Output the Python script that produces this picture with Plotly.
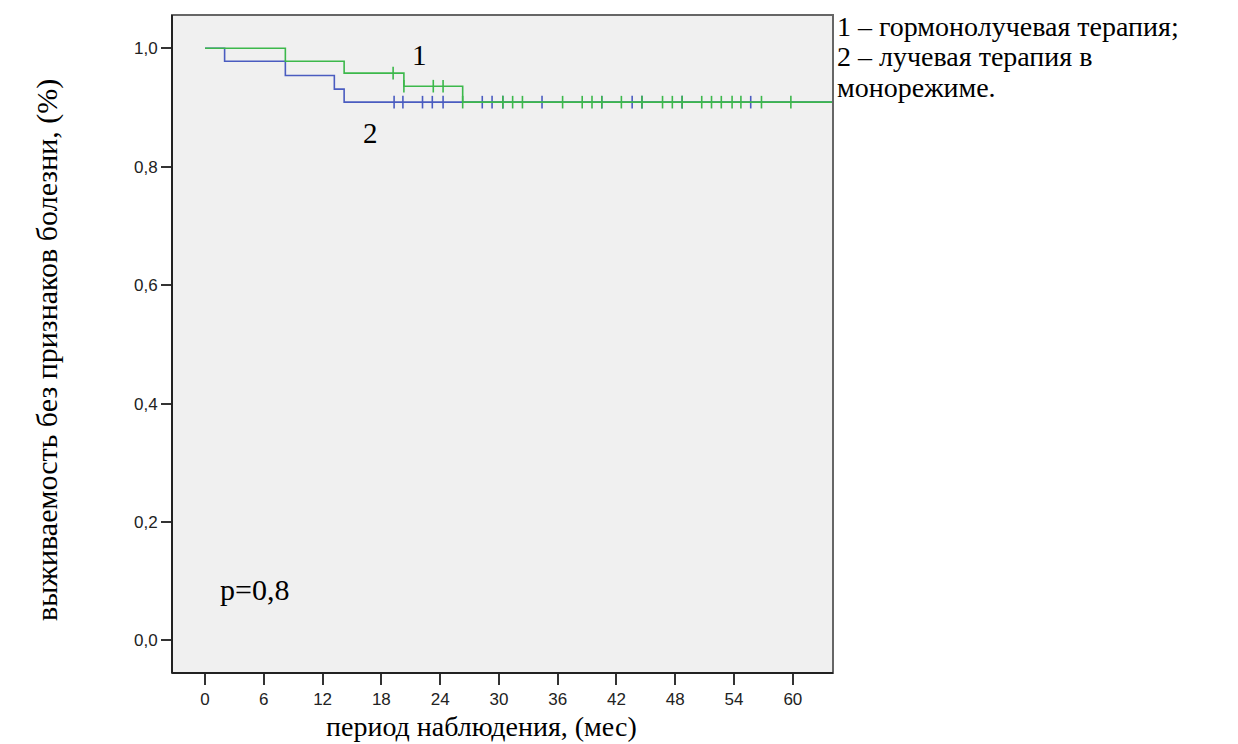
import numpy as np
import plotly.graph_objects as go

# Kaplan-Meier step data (months, survival)
g1_time = [0, 8.2, 14.2, 20.3, 26.3, 66]
g1_surv = [1.0, 0.978, 0.958, 0.936, 0.909, 0.909]
g1_cens = [19.2, 20.3, 23.3, 24.3, 26.3, 30.4, 31.4, 32.4, 36.5, 38.5, 39.5, 40.5,
           42.5, 44.6, 46.7, 47.7, 48.7, 50.7, 51.7, 52.7, 53.8, 54.7, 56.8, 59.8]

g2_time = [0, 2.0, 8.2, 13.2, 14.2, 66]
g2_surv = [1.0, 0.978, 0.954, 0.931, 0.909, 0.909]
g2_cens = [19.3, 20.2, 22.2, 23.2, 24.3, 28.3, 29.3, 30.4, 34.4, 40.5, 43.6, 44.6,
           48.7, 55.7]

x_ticks = [0, 6, 12, 18, 24, 30, 36, 42, 48, 54, 60]
y_ticks = [0.0, 0.2, 0.4, 0.6, 0.8, 1.0]
y_tick_text = ["0,0", "0,2", "0,4", "0,6", "0,8", "1,0"]

legend_lines = ["1 – гормонолучевая терапия;", "2 – лучевая терапия в", "монорежиме."]

GREEN = "#3cb84b"
BLUE = "#4a5cc0"


def step_at(times, surv, xs):
    idx = np.searchsorted(np.array(times), np.array(xs), side="right") - 1
    return [surv[i] for i in idx]


fig = go.Figure()
for times, surv, cens, col in [(g2_time, g2_surv, g2_cens, BLUE),
                               (g1_time, g1_surv, g1_cens, GREEN)]:
    fig.add_trace(go.Scatter(x=times, y=surv, mode="lines", line_shape="hv",
                             line=dict(color=col, width=1.6), showlegend=False,
                             hoverinfo="skip"))
    fig.add_trace(go.Scatter(x=cens, y=step_at(times, surv, cens), mode="markers",
                             marker=dict(symbol="line-ns", size=9,
                                         line=dict(color=col, width=1.6)),
                             showlegend=False, hoverinfo="skip"))

serif = "Liberation Serif, Times New Roman, serif"
sans = "Liberation Sans Narrow, Arial Narrow, Liberation Sans, Arial, sans-serif"

# page geometry (browser body has 8px margin)
PL, PR, PT, PB = 172, 833, 15, 673
W, H = 1230, 736


def px(x):
    return (x - PL) / (PR - PL)


def py(y):
    return (PB - y) / (PB - PT)


annotations = [
    dict(x=21.9, y=0.989, xref="x", yref="y", text="1", showarrow=False,
         font=dict(family=serif, size=29, color="black")),
    dict(x=16.9, y=0.857, xref="x", yref="y", text="2", showarrow=False,
         font=dict(family=serif, size=29, color="black")),
    dict(x=5.0, y=0.0856, xref="x", yref="y", text="p=0,8", showarrow=False,
         font=dict(family=serif, size=30, color="black")),
    dict(x=px(481), y=py(726), xref="paper", yref="paper", xanchor="center",
         yanchor="middle", text="период наблюдения, (мес)", showarrow=False,
         font=dict(family=serif, size=28, color="black")),
    dict(x=px(47), y=py(350), xref="paper", yref="paper", xanchor="center",
         yanchor="middle", text="выживаемость без признаков болезни, (%)",
         textangle=-90, showarrow=False,
         font=dict(family=serif, size=30, color="black")),
]
for line, ytop in zip(legend_lines, [9, 39, 70]):
    annotations.append(dict(x=px(835), y=py(ytop), xref="paper", yref="paper",
                            xanchor="left", yanchor="top", align="left",
                            showarrow=False, text=line,
                            font=dict(family=serif, size=28, color="black")))

fig.update_layout(
    width=W, height=H,
    margin=dict(l=PL - 8, r=W - (PR - 8), t=PT - 8, b=H - (PB - 8)),
    paper_bgcolor="white",
    plot_bgcolor="#f0f0f0",
    xaxis=dict(range=[-3.37, 64.1], tickvals=x_ticks, ticks="outside", ticklen=11,
               tickwidth=2, tickcolor="#333", showgrid=False, zeroline=False,
               showline=False,
               tickfont=dict(family=sans, size=17, color="#222")),
    yaxis=dict(range=[-0.055, 1.0562], tickvals=y_ticks,
               ticktext=y_tick_text, ticks="outside", ticklen=10, tickwidth=2,
               tickcolor="#333", showgrid=False, zeroline=False, showline=False,
               tickfont=dict(family=sans, size=17, color="#222")),
    shapes=[
        dict(type="rect", xref="x domain", yref="y domain", x0=0, x1=1, y0=0, y1=1,
             line=dict(color="#666", width=2), fillcolor="rgba(0,0,0,0)"),
        dict(type="line", xref="x domain", yref="y domain", x0=0, x1=0, y0=0, y1=1,
             line=dict(color="#222", width=2)),
        dict(type="line", xref="x domain", yref="y domain", x0=0, x1=1, y0=0, y1=0,
             line=dict(color="#222", width=2)),
    ],
    annotations=annotations,
)

fig.write_html("out.html")
